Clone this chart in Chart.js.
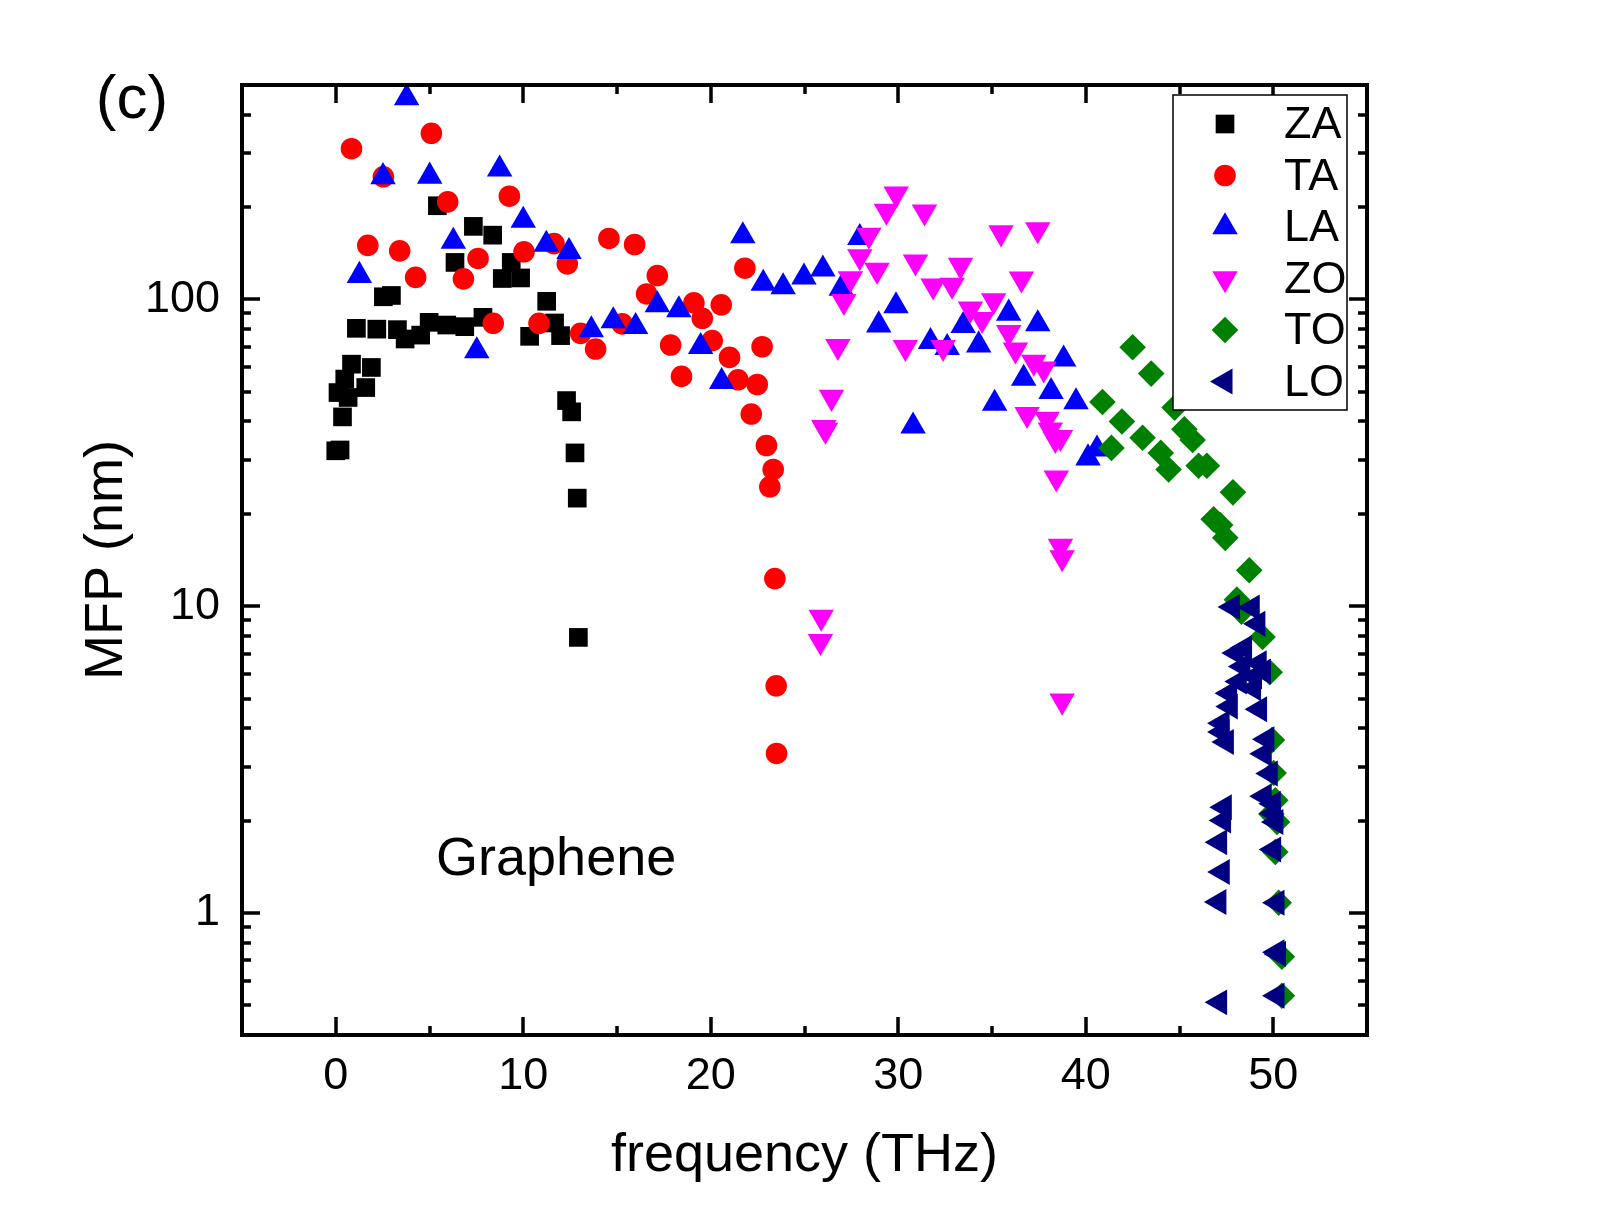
<!DOCTYPE html>
<html><head><meta charset="utf-8">
<script src="https://cdn.jsdelivr.net/npm/chart.js@4.4.1/dist/chart.umd.min.js"></script>
<style>html,body{margin:0;padding:0;background:#fff;}#wrap{width:1609px;height:1232px;}</style>
</head><body><div id="wrap"><canvas id="c" width="1609" height="1232"></canvas></div>
<script>
// ---------- data ----------
const seriesNames = ['ZA', 'TA', 'LA', 'ZO', 'TO', 'LO'];

const zaFreq = [0.00, 0.23, 0.36, 0.12, 0.66, 0.48, 0.84, 1.60, 1.90, 1.10, 2.19, 2.54, 2.97, 3.29, 3.70, 4.53, 4.98, 5.42, 5.92, 6.36, 6.88, 7.34, 7.85, 8.37, 8.88, 9.36, 9.86, 10.34, 11.25, 11.67, 11.99, 12.31, 12.58, 12.76, 12.88, 12.94];
const zaMfp  = [32.1, 32.3, 41.4, 49.7, 47.9, 55.0, 61.5, 51.6, 60.0, 80.5, 80.0, 102, 103, 79.7, 74.3, 76.5, 84.2, 202, 82.5, 132, 81.5, 173, 87.4, 162, 117, 132, 117.5, 75.8, 98.6, 83.8, 76.2, 46.8, 43.0, 31.6, 22.5, 7.91];

const taFreq = [0.84, 2.54, 5.10, 5.97, 9.26, 1.71, 3.41, 4.26, 7.59, 6.81, 10.04, 11.64, 12.35, 14.57, 15.94, 17.15, 16.58, 8.40, 10.84, 13.06, 13.86, 15.28, 17.86, 18.44, 19.10, 19.55, 20.08, 20.56, 21.00, 21.45, 21.82, 22.16, 22.48, 22.74, 22.97, 23.33, 23.15, 23.42, 23.49, 23.51];
const taMfp  = [310, 251, 348, 208, 217, 150, 144, 118, 136, 116.7, 143, 152, 130.6, 158, 151, 119.6, 104.2, 83.6, 83.6, 77.5, 68.9, 83.2, 71.0, 56.1, 97.4, 86.8, 73.4, 96, 64.7, 54.7, 126.4, 42.3, 52.8, 70.1, 33.4, 27.9, 24.5, 12.3, 5.50, 3.31];

const laFreq = [3.78, 2.52, 5.01, 8.74, 10.00, 6.27, 11.23, 12.44, 1.26, 7.52, 13.63, 14.80, 15.99, 17.15, 18.30, 19.46, 20.58, 21.71, 22.80, 23.86, 24.97, 25.98, 26.96, 27.95, 28.96, 29.88, 30.79, 31.72, 32.61, 33.46, 34.29, 35.14, 35.89, 36.69, 37.44, 38.15, 38.82, 39.48, 40.12, 40.60];
const laMfp  = [454, 251, 252, 266, 181, 154.5, 151, 143, 119.6, 67.9, 79.5, 85.1, 81.5, 96, 92.4, 70.1, 53.9, 161, 112.7, 109.9, 118.2, 125.4, 108.7, 159, 82.5, 95.2, 38.6, 72.8, 69.6, 82.1, 71.0, 45.8, 90.1, 55.3, 83.2, 50.0, 63.9, 46.3, 30.4, 32.5];

const zoFreq = [29.89, 29.37, 31.40, 28.43, 27.95, 28.87, 27.45, 27.10, 30.92, 33.32, 31.86, 32.87, 33.85, 34.47, 26.78, 30.38, 32.39, 26.44, 26.03, 26.12, 25.89, 25.85, 35.48, 37.44, 36.57, 35.09, 35.89, 36.25, 37.23, 37.76, 36.87, 37.94, 38.11, 38.38, 38.65, 38.43, 38.65, 38.74, 38.74];
const zoMfp  = [221, 194, 193, 162, 138, 124.5, 117, 98.6, 132.6, 129.3, 110.7, 111.3, 93.1, 86.1, 70.3, 69.8, 69.8, 48.0, 38.3, 37.5, 9.22, 7.68, 165, 169, 116.7, 99.1, 78.1, 68.5, 62.5, 59.4, 42.2, 40.7, 37.6, 35.0, 35.5, 26.2, 15.7, 14.4, 4.91];

const toFreq = [40.89, 41.37, 41.93, 42.50, 43.03, 43.49, 44.00, 44.42, 44.74, 45.26, 45.70, 46.02, 46.46, 46.82, 47.17, 47.44, 47.85, 48.72, 48.06, 48.30, 49.43, 49.81, 49.93, 50.02, 50.11, 49.90, 50.20, 50.11, 50.29, 50.46, 50.46];
const toMfp  = [46.3, 32.8, 40.0, 69.8, 35.4, 57.3, 31.6, 27.9, 44.4, 37.7, 34.8, 28.7, 28.7, 19.2, 18.4, 16.7, 23.5, 13.1, 10.5, 9.6, 7.93, 6.09, 3.66, 2.86, 2.33, 2.10, 1.98, 1.58, 1.08, 0.72, 0.537];

const loFreq = [47.83, 48.88, 49.18, 48.47, 48.03, 48.38, 49.25, 49.48, 49.00, 48.19, 48.95, 47.67, 47.71, 49.27, 47.27, 47.27, 47.50, 49.66, 49.52, 49.84, 49.52, 50.00, 50.02, 50.14, 47.39, 47.35, 47.14, 50.02, 47.28, 47.10, 50.20, 50.28, 50.20, 50.20, 47.14];
const loMfp  = [9.94, 9.9, 8.77, 7.30, 7.03, 6.36, 6.52, 6.12, 5.90, 5.68, 5.40, 5.20, 4.71, 4.61, 4.15, 3.89, 3.61, 3.68, 3.30, 2.85, 2.40, 2.27, 2.11, 1.98, 2.21, 2.00, 1.70, 1.61, 1.36, 1.085, 1.08, 0.735, 0.745, 0.537, 0.511];

const xTickValues = [0, 10, 20, 30, 40, 50];
const xTickLabels = ['0', '10', '20', '30', '40', '50'];
const yTickValues = [1, 10, 100];
const yTickLabels = ['1', '10', '100'];

const panelLabel = '(c)';
const materialLabel = 'Graphene';
const xTitle = 'frequency (THz)';
const yTitle = 'MFP (nm)';

// ---------- styles ----------
const FONT = "'Liberation Sans', Arial, Helvetica, sans-serif";
const seriesStyle = [
  {color: '#000000', pointStyle: 'rect',     radius: 13.2, rotation: 0},
  {color: '#ff0000', pointStyle: 'circle',   radius: 10.8, rotation: 0},
  {color: '#0000ff', pointStyle: 'triangle', radius: 14.7, rotation: 0},
  {color: '#ff00ff', pointStyle: 'triangle', radius: 14.7, rotation: 180},
  {color: '#008000', pointStyle: 'rectRot',  radius: 13.3, rotation: 0},
  {color: '#000080', pointStyle: 'triangle', radius: 15.0, rotation: -90}
];
const freqs = [zaFreq, taFreq, laFreq, zoFreq, toFreq, loFreq];
const mfps  = [zaMfp, taMfp, laMfp, zoMfp, toMfp, loMfp];

const datasets = seriesNames.map((name, i) => ({
  label: name,
  data: freqs[i].map((f, k) => ({x: f, y: mfps[i][k]})),
  backgroundColor: seriesStyle[i].color,
  borderColor: seriesStyle[i].color,
  pointStyle: seriesStyle[i].pointStyle,
  pointRadius: seriesStyle[i].radius,
  pointHoverRadius: seriesStyle[i].radius,
  pointRotation: seriesStyle[i].rotation,
  pointBorderWidth: 0,
  showLine: false,
  order: seriesNames.length - i
}));

const decorPlugin = {
  id: 'decor',
  afterDraw(chart) {
    const {ctx, chartArea: a, scales: {x, y}} = chart;
    ctx.save();
    ctx.strokeStyle = '#000';
    ctx.lineCap = 'butt';
    ctx.lineWidth = 3.5;
    const MAJ = 18, MIN = 9;
    // x ticks (inward, bottom and top)
    for (let v = x.min; v <= x.max + 1e-9; v += 5) {
      const px = Math.round(x.getPixelForValue(v));
      if (px <= a.left + 2 || px >= a.right - 2) continue;
      const L = (Math.abs(v % 10) < 1e-9) ? MAJ : MIN;
      ctx.beginPath();
      ctx.moveTo(px, a.bottom); ctx.lineTo(px, a.bottom - L);
      ctx.moveTo(px, a.top); ctx.lineTo(px, a.top + L);
      ctx.stroke();
    }
    // y ticks (log, inward, left and right)
    for (const dec of [0.1, 1, 10, 100]) {
      for (let k = 1; k <= 9; k++) {
        const v = k * dec;
        if (v <= y.min * 1.0001 || v >= y.max * 0.9999) continue;
        const py = Math.round(y.getPixelForValue(v));
        const L = (k === 1) ? MAJ : MIN;
        ctx.beginPath();
        ctx.moveTo(a.left, py); ctx.lineTo(a.left + L, py);
        ctx.moveTo(a.right, py); ctx.lineTo(a.right - L, py);
        ctx.stroke();
      }
    }
    // frame
    ctx.lineWidth = 4;
    ctx.strokeRect(a.left, a.top, a.right - a.left, a.bottom - a.top);

    // legend box
    const lx = 1173, ly = 95, lw = 174, lh = 315;
    ctx.fillStyle = '#fff';
    ctx.fillRect(lx, ly, lw, lh);
    ctx.lineWidth = 1.5;
    ctx.strokeStyle = '#000';
    ctx.strokeRect(lx, ly, lw, lh);
    ctx.font = '45px ' + FONT;
    ctx.textBaseline = 'middle';
    ctx.textAlign = 'left';
    seriesNames.forEach((name, i) => {
      const cy = 124 + i * 51.5;
      const st = seriesStyle[i];
      ctx.fillStyle = st.color;
      Chart.helpers.drawPoint(ctx, {pointStyle: st.pointStyle, rotation: st.rotation, radius: st.radius, borderWidth: 0}, 1225, cy);
      ctx.fillStyle = '#000';
      ctx.fillText(name, 1284, cy + 2);
    });

    // material label
    ctx.fillStyle = '#000';
    ctx.font = '54px ' + FONT;
    ctx.textBaseline = 'alphabetic';
    ctx.fillText(materialLabel, x.getPixelForValue(5.35), y.getPixelForValue(1.326));

    // panel label
    ctx.font = '62px ' + FONT;
    ctx.textAlign = 'center';
    ctx.fillText(panelLabel, 132, 118);
    ctx.restore();
  }
};

new Chart(document.getElementById('c'), {
  type: 'scatter',
  data: {datasets},
  options: {
    responsive: false,
    animation: false,
    devicePixelRatio: 1,
    layout: {padding: {left: 0, top: 85, right: 242, bottom: 0}},
    plugins: {legend: {display: false}, tooltip: {enabled: false}},
    scales: {
      x: {
        type: 'linear', position: 'bottom', min: -5, max: 55,
        grid: {display: false, drawTicks: false},
        border: {display: false},
        afterBuildTicks: (s) => { s.ticks = xTickValues.map(v => ({value: v})); },
        afterFit: (s) => { s.height = 197; },
        ticks: {
          font: {family: FONT, size: 45}, color: '#000', padding: 15,
          maxRotation: 0, autoSkip: false,
          callback: (v, i) => xTickLabels[i]
        },
        title: {display: true, text: xTitle, color: '#000', font: {family: FONT, size: 54}, padding: {top: 0, bottom: 43}}
      },
      y: {
        type: 'logarithmic', position: 'left', min: 0.4, max: 500,
        grid: {display: false, drawTicks: false},
        border: {display: false},
        afterBuildTicks: (s) => { s.ticks = yTickValues.map(v => ({value: v})); },
        afterFit: (s) => { s.width = 242; },
        ticks: {
          font: {family: FONT, size: 45}, color: '#000', padding: 22,
          autoSkip: false,
          callback: (v, i) => yTickLabels[i]
        },
        title: {display: true, text: yTitle, color: '#000', font: {family: FONT, size: 54}, padding: {top: 75, bottom: 0}}
      }
    }
  },
  plugins: [decorPlugin]
});
</script></body></html>
